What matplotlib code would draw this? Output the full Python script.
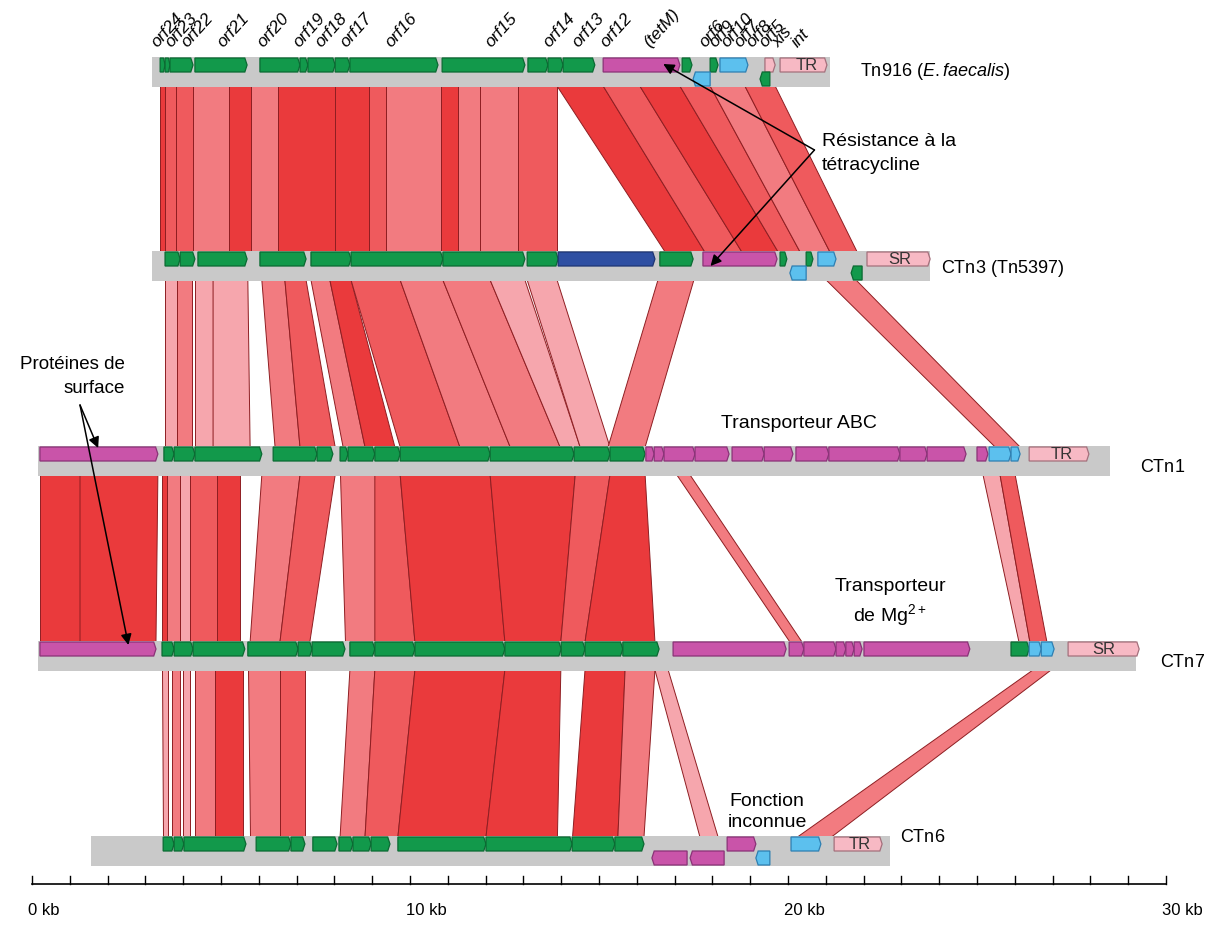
import matplotlib
matplotlib.use("Agg")
import matplotlib.pyplot as plt
from matplotlib.patches import Polygon, Rectangle

plt.rcParams['font.family'] = ['Liberation Sans', 'DejaVu Sans']
plt.rcParams['mathtext.fontset'] = 'custom'
plt.rcParams['mathtext.rm'] = 'Liberation Sans'
plt.rcParams['mathtext.it'] = 'Liberation Sans:italic'

# --- data (positions in kb) ---
track_names = [r'Tn$\mathit{916}$ ($\mathit{E.faecalis}$)', r'CTn$\mathit{3}$ (Tn$\mathit{5397}$)',
               r'CTn$\mathit{1}$', r'CTn$\mathit{7}$', r'CTn$\mathit{6}$']
backbones = [(3.17, 21.11), (3.17, 23.76), (0.16, 28.52), (0.16, 29.21), (1.56, 22.70)]

# (start, end, row, kind)  row 0 = forward strand, 1 = reverse strand
genes_tn916 = [(3.39, 3.52, 0, 'g'), (3.52, 3.65, 0, 'g'), (3.65, 4.26, 0, 'g'), (4.31, 5.69, 0, 'g'),
               (6.03, 7.09, 0, 'g'), (7.09, 7.30, 0, 'g'), (7.30, 8.02, 0, 'g'), (8.02, 8.41, 0, 'g'),
               (8.41, 10.74, 0, 'g'), (10.85, 13.04, 0, 'g'), (13.12, 13.65, 0, 'g'), (13.65, 14.05, 0, 'g'),
               (14.05, 14.89, 0, 'g'), (15.11, 17.14, 0, 'm'), (17.20, 17.46, 0, 'g'), (17.94, 18.15, 0, 'g'),
               (18.20, 18.94, 0, 'b'), (19.39, 19.66, 0, 'p'), (19.79, 21.03, 0, 'p'),
               (17.49, 17.94, 1, 'b'), (19.26, 19.52, 1, 'g')]
genes_ctn3 = [(3.52, 3.92, 0, 'g'), (3.92, 4.31, 0, 'g'), (4.39, 5.69, 0, 'g'), (6.03, 7.25, 0, 'g'),
              (7.38, 8.44, 0, 'g'), (8.44, 10.87, 0, 'g'), (10.87, 13.04, 0, 'g'), (13.10, 13.92, 0, 'g'),
              (13.92, 16.48, 0, 'd'), (16.61, 17.49, 0, 'g'), (17.75, 19.71, 0, 'm'), (19.79, 19.97, 0, 'g'),
              (20.48, 20.66, 0, 'g'), (20.79, 21.27, 0, 'b'), (22.09, 23.76, 0, 'p'),
              (20.05, 20.48, 1, 'b'), (21.67, 21.96, 1, 'g')]
genes_ctn1 = [(0.21, 3.33, 0, 'm'), (3.49, 3.76, 0, 'g'), (3.76, 4.31, 0, 'g'), (4.31, 6.08, 0, 'g'),
              (6.38, 7.54, 0, 'g'), (7.54, 7.96, 0, 'g'), (8.15, 8.36, 0, 'g'), (8.36, 9.07, 0, 'g'),
              (9.07, 9.74, 0, 'g'), (9.74, 12.12, 0, 'g'), (12.12, 14.34, 0, 'g'), (14.34, 15.29, 0, 'g'),
              (15.29, 16.22, 0, 'g'), (16.24, 16.46, 0, 'm'), (16.46, 16.72, 0, 'm'), (16.72, 17.54, 0, 'm'),
              (17.54, 18.44, 0, 'm'), (18.52, 19.37, 0, 'm'), (19.37, 20.13, 0, 'm'), (20.21, 21.08, 0, 'm'),
              (21.08, 22.96, 0, 'm'), (22.96, 23.68, 0, 'm'), (23.68, 24.71, 0, 'm'), (25.00, 25.29, 0, 'm'),
              (25.32, 25.90, 0, 'b'), (25.90, 26.14, 0, 'b'), (26.38, 27.96, 0, 'p')]
genes_ctn7 = [(0.21, 3.28, 0, 'm'), (3.44, 3.76, 0, 'g'), (3.76, 4.26, 0, 'g'), (4.26, 5.63, 0, 'g'),
              (5.71, 7.04, 0, 'g'), (7.04, 7.41, 0, 'g'), (7.41, 8.28, 0, 'g'), (8.41, 9.07, 0, 'g'),
              (9.07, 10.13, 0, 'g'), (10.13, 12.51, 0, 'g'), (12.51, 14.00, 0, 'g'), (14.00, 14.63, 0, 'g'),
              (14.63, 15.63, 0, 'g'), (15.63, 16.59, 0, 'g'), (16.96, 19.95, 0, 'm'), (20.03, 20.42, 0, 'm'),
              (20.42, 21.27, 0, 'm'), (21.27, 21.53, 0, 'm'), (21.53, 21.75, 0, 'm'), (21.75, 21.96, 0, 'm'),
              (22.01, 24.81, 0, 'm'), (25.90, 26.38, 0, 'g'), (26.38, 26.70, 0, 'b'), (26.70, 27.04, 0, 'b'),
              (27.41, 29.29, 0, 'p')]
genes_ctn6 = [(3.47, 3.76, 0, 'g'), (3.76, 4.02, 0, 'g'), (4.02, 5.66, 0, 'g'), (5.93, 6.85, 0, 'g'),
              (6.85, 7.22, 0, 'g'), (7.43, 8.07, 0, 'g'), (8.12, 8.49, 0, 'g'), (8.49, 8.97, 0, 'g'),
              (8.97, 9.47, 0, 'g'), (9.68, 12.01, 0, 'g'), (12.01, 14.29, 0, 'g'), (14.29, 15.42, 0, 'g'),
              (15.42, 16.19, 0, 'g'), (18.39, 19.15, 0, 'm'), (20.08, 20.87, 0, 'b'), (21.22, 22.49, 0, 'p'),
              (16.40, 17.33, 1, 'm'), (17.41, 18.31, 1, 'm'), (19.15, 19.52, 1, 'b')]
all_genes = [genes_tn916, genes_ctn3, genes_ctn1, genes_ctn7, genes_ctn6]

# repeat-region boxes: (track, centre kb, text)
box_labels = [(0, 20.50, 'TR'), (1, 22.95, 'SR'), (2, 27.25, 'TR'), (3, 28.35, 'SR'), (4, 21.90, 'TR')]

# gene names on Tn916
orf_names = ['orf24', 'orf23', 'orf22', 'orf21', 'orf20', 'orf19', 'orf18', 'orf17', 'orf16', 'orf15',
             'orf14', 'orf13', 'orf12', '(tetM)', 'orf6', 'orf9', 'orf10', 'orf7', 'orf8', 'orf5', 'xis', 'int']
orf_pos = [3.39, 3.76, 4.18, 5.13, 6.19, 7.14, 7.72, 8.39, 9.58, 12.22,
           13.76, 14.52, 15.26, 16.40, 17.88, 18.15, 18.47, 18.81, 19.13, 19.47, 19.81, 20.32]

# homology bands between consecutive tracks: (top start, top end, bottom start, bottom end, shade)
bands_0_1 = [(3.39, 3.52, 3.39, 3.52, 0), (3.52, 3.81, 3.52, 3.81, 1), (3.81, 4.26, 3.81, 4.26, 1),
             (4.26, 5.21, 4.26, 5.21, 2), (5.21, 5.79, 5.21, 5.79, 0), (5.79, 6.51, 5.79, 6.51, 2),
             (6.51, 8.02, 6.51, 8.02, 0), (8.02, 8.92, 8.02, 8.92, 0), (8.92, 9.37, 8.92, 9.37, 1),
             (9.37, 10.82, 9.37, 10.82, 2), (10.82, 11.27, 10.82, 11.27, 0), (11.27, 11.85, 11.27, 11.85, 2),
             (11.85, 12.86, 11.85, 12.86, 2), (12.86, 13.89, 12.86, 13.89, 1),
             (13.89, 15.11, 16.75, 17.80, 0), (15.11, 16.08, 17.80, 18.78, 1), (16.08, 17.14, 18.78, 19.74, 0),
             (17.14, 17.94, 19.74, 20.32, 1), (17.94, 18.86, 20.32, 21.11, 2), (18.86, 19.66, 21.11, 21.83, 1)]
bands_1_2 = [(3.52, 3.84, 3.52, 3.84, 3), (3.84, 4.23, 3.84, 4.23, 2), (4.31, 4.79, 4.31, 4.79, 3),
             (4.79, 5.71, 4.79, 5.77, 3), (6.08, 6.69, 6.43, 7.09, 2), (6.69, 7.25, 7.09, 8.02, 1),
             (7.38, 7.88, 8.23, 8.81, 2), (7.88, 8.44, 8.81, 9.60, 0), (8.44, 9.74, 9.74, 11.32, 1),
             (9.74, 10.87, 11.32, 12.65, 2), (10.87, 12.12, 12.65, 13.97, 2), (12.12, 13.04, 13.97, 14.50, 3),
             (13.10, 13.89, 14.50, 15.29, 3), (16.56, 17.51, 15.24, 16.22, 2), (21.01, 21.80, 25.48, 26.14, 2)]
bands_2_3 = [(0.21, 1.27, 0.21, 1.27, 0), (1.27, 3.33, 1.27, 3.28, 0), (3.44, 3.57, 3.44, 3.57, 0),
             (3.57, 3.92, 3.57, 3.92, 2), (3.92, 4.18, 3.92, 4.18, 3), (4.18, 4.89, 4.18, 4.89, 1),
             (4.89, 5.50, 4.89, 5.50, 0), (6.08, 7.09, 5.77, 6.56, 2), (7.09, 8.02, 6.56, 7.35, 1),
             (8.15, 9.07, 8.28, 9.07, 2), (9.07, 9.74, 9.07, 10.13, 1), (9.74, 12.12, 10.13, 12.51, 0),
             (12.12, 14.37, 12.51, 13.99, 0), (14.37, 15.29, 13.99, 14.63, 1), (15.29, 16.22, 14.63, 16.48, 0),
             (17.06, 17.41, 20.05, 20.37, 2), (25.16, 25.61, 26.11, 26.40, 3), (25.61, 26.01, 26.40, 26.85, 1)]
bands_3_4 = [(3.44, 3.60, 3.47, 3.60, 3), (3.70, 3.92, 3.70, 3.92, 2), (4.00, 4.18, 4.00, 4.18, 3),
             (4.31, 4.84, 4.31, 4.84, 2), (4.84, 5.58, 4.84, 5.58, 0), (5.71, 6.56, 5.77, 6.56, 2),
             (6.56, 7.22, 6.56, 7.22, 1), (8.41, 9.07, 8.15, 8.81, 2), (9.07, 10.13, 8.81, 9.68, 1),
             (10.13, 12.51, 9.68, 12.01, 0), (12.51, 13.99, 12.01, 13.90, 0), (14.63, 15.69, 14.30, 15.50, 0),
             (15.69, 16.48, 15.50, 16.19, 2), (16.48, 16.83, 17.67, 18.15, 3), (26.48, 26.96, 20.25, 21.15, 2)]
all_bands = [bands_0_1, bands_1_2, bands_2_3, bands_3_4]

# --- layout / styles ---
track_top = [57, 251, 446, 641, 836]
label_pos = [(21.9, 72), (24.05, 268), (29.3, 467), (29.85, 662), (22.95, 837)]
bar_h = 30
shades = ['#ea3a3c', '#ef5a5d', '#f27b80', '#f6a6ad']
fills = {'g': ('#12994b', '#0a6a32'), 'm': ('#c954a9', '#8a3277'), 'b': ('#5cc0ee', '#2d7fb2'),
         'd': ('#2e4fa2', '#1d3573'), 'p': ('#f7b9c4', '#a4707c')}

fig = plt.figure(figsize=(12.07, 9.30), dpi=100)
ax = fig.add_axes([0, 0, 1, 1])
ax.set_xlim(-32 / 37.8, (1207 - 32) / 37.8)
ax.set_ylim(930, 0)
ax.axis('off')

# homology bands
for i, bands in enumerate(all_bands):
    y_a = track_top[i] + bar_h - 1
    y_b = track_top[i + 1] + 1
    for t0, t1, b0, b1, s in bands:
        ax.add_patch(Polygon([(t0, y_a), (t1, y_a), (b1, y_b), (b0, y_b)], closed=True,
                             facecolor=shades[s], edgecolor='#8e1e22', lw=0.7, zorder=1))

# backbones and genes
for i, genes in enumerate(all_genes):
    top = track_top[i]
    x0, x1 = backbones[i]
    ax.add_patch(Rectangle((x0, top), x1 - x0, bar_h, facecolor='#c9c9c9', edgecolor='none', zorder=2))
    for g0, g1, row, kind in genes:
        fc, ec = fills[kind]
        ya = top + 1 + row * 14
        yb = ya + 14
        ym = (ya + yb) / 2
        tip = min(0.06, (g1 - g0) * 0.3)
        if row == 0:
            pts = [(g0, ya), (g1 - tip, ya), (g1, ym), (g1 - tip, yb), (g0, yb)]
        else:
            pts = [(g0 + tip, ya), (g1, ya), (g1, yb), (g0 + tip, yb), (g0, ym)]
        ax.add_patch(Polygon(pts, closed=True, facecolor=fc, edgecolor=ec, lw=0.9, zorder=3))
    lx, ly = label_pos[i]
    ax.text(lx, ly, track_names[i], fontsize=13, ha='left', va='center', zorder=5)

for t, xc, txt in box_labels:
    ax.text(xc, track_top[t] + 8, txt, fontsize=12, ha='center', va='center', color='#333333', zorder=4)

for name, x in zip(orf_names, orf_pos):
    ax.text(x, 50, name, fontsize=12.5, style='italic', rotation=48, rotation_mode='anchor',
            ha='left', va='bottom', zorder=5)

# annotations
arrow = dict(arrowstyle='-|>', color='black', lw=1.1, mutation_scale=16, shrinkA=0, shrinkB=0)
ax.text(20.9, 142, 'Résistance à la', fontsize=14, ha='left', va='center')
ax.text(20.9, 165, 'tétracycline', fontsize=14, ha='left', va='center')
ax.annotate('', xy=(16.70, 64), xytext=(20.70, 150), arrowprops=arrow)
ax.annotate('', xy=(17.95, 266), xytext=(20.70, 150), arrowprops=arrow)

ax.text(2.46, 364, 'Protéines de', fontsize=13.5, ha='right', va='center')
ax.text(2.46, 388, 'surface', fontsize=13.5, ha='right', va='center')
ax.annotate('', xy=(1.75, 448), xytext=(1.27, 405), arrowprops=arrow)
ax.annotate('', xy=(2.55, 645), xytext=(1.27, 405), arrowprops=arrow)

box = dict(facecolor='white', edgecolor='none', pad=1)
ax.text(20.30, 423, 'Transporteur ABC', fontsize=14, ha='center', va='center', bbox=box)
ax.text(22.70, 603, 'Transporteur\n' + r'de Mg$^{2+}$', fontsize=14, ha='center', va='center',
        linespacing=1.35, bbox=box)
ax.text(19.45, 812, 'Fonction\ninconnue', fontsize=14, ha='center', va='center',
        linespacing=1.35, bbox=box, zorder=0.5)

# scale bar
ax.plot([0, 30], [884, 884], color='black', lw=1.2)
for k in range(31):
    ax.plot([k, k], [876, 884], color='black', lw=1)
for k in [0, 10, 20, 30]:
    ax.text(k - 0.1, 910, f'{k} kb', fontsize=12, ha='left', va='center')

fig.savefig('out.png', dpi=100)
